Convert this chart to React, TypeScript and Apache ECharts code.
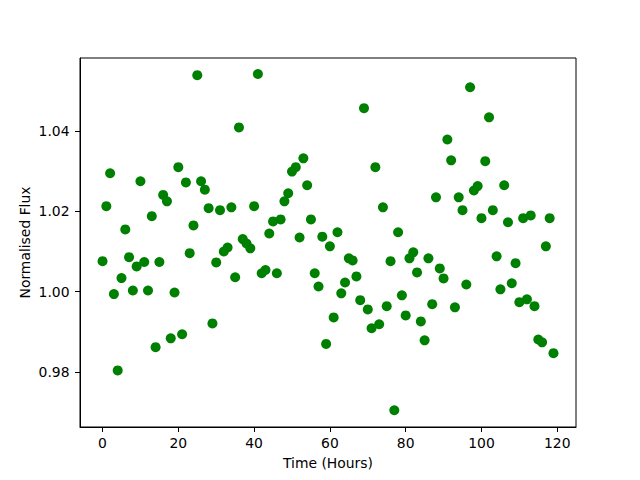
import React, { useEffect, useRef } from "react";
import * as echarts from "echarts";

const hours: number[] = Array.from({ length: 120 }, (_, i) => i);

const flux: number[] = [
  1.0076, 1.0213, 1.0295, 0.9994, 0.9804, 1.0034, 1.0155, 1.0086, 1.0003, 1.0063,
  1.0275, 1.0074, 1.0003, 1.0188, 0.9862, 1.0074, 1.0241, 1.0225, 0.9884, 0.9998,
  1.0310, 0.9894, 1.0272, 1.0096, 1.0165, 1.0539, 1.0275, 1.0254, 1.0208, 0.9921,
  1.0073, 1.0203, 1.0100, 1.0110, 1.0210, 1.0036, 1.0409, 1.0131, 1.0120, 1.0108,
  1.0213, 1.0542, 1.0046, 1.0054, 1.0145, 1.0175, 1.0046, 1.0180, 1.0225, 1.0245,
  1.0299, 1.0310, 1.0135, 1.0332, 1.0265, 1.0180, 1.0046, 1.0013, 1.0137, 0.9870,
  1.0113, 0.9936, 1.0148, 0.9996, 1.0023, 1.0083, 1.0078, 1.0038, 0.9979, 1.0457,
  0.9956, 0.9909, 1.0310, 0.9919, 1.0210, 0.9964, 1.0076, 0.9705, 1.0148, 0.9991,
  0.9941, 1.0083, 1.0098, 1.0048, 0.9926, 0.9879, 1.0083, 0.9969, 1.0235, 1.0058,
  1.0033, 1.0379, 1.0327, 0.9961, 1.0235, 1.0203, 1.0018, 1.0509, 1.0252, 1.0263,
  1.0183, 1.0325, 1.0434, 1.0203, 1.0088, 1.0006, 1.0265, 1.0173, 1.0021, 1.0071,
  0.9974, 1.0183, 0.9981, 1.0190, 0.9964, 0.9881, 0.9874, 1.0113, 1.0183, 0.9847,
];

const xTicks: number[] = [0, 20, 40, 60, 80, 100, 120];
const yTicks: number[] = [0.98, 1.0, 1.02, 1.04];

export default function App() {
  const ref = useRef<HTMLDivElement>(null);

  useEffect(() => {
    if (!ref.current) return;
    const chart = echarts.init(ref.current, null, { renderer: "svg" });
    const font = "DejaVu Sans";
    const xMin = -5.95;
    const xMax = 124.95;
    const yMin = 0.96632;
    const yMax = 1.05818;
    chart.setOption({
      animation: false,
      backgroundColor: "#ffffff",
      grid: {
        left: 80,
        right: 64,
        top: 58,
        bottom: 53,
        show: true,
        borderColor: "#000",
        borderWidth: 1,
        backgroundColor: "transparent",
      },
      xAxis: {
        type: "value",
        min: xMin,
        max: xMax,
        name: "Time (Hours)",
        nameLocation: "middle",
        nameGap: 29,
        nameMoveOverlap: false,
        nameTextStyle: { fontFamily: font, fontSize: 13.9, color: "#000" },
        splitLine: { show: false },
        axisLine: { show: true, onZero: false, lineStyle: { color: "#000", width: 1 } },
        axisTick: {
          show: true,
          length: 5,
          lineStyle: { color: "#000", width: 1 },
          customValues: xTicks,
        },
        axisLabel: {
          fontFamily: font,
          fontSize: 13.9,
          color: "#000",
          margin: 9,
          customValues: xTicks,
          formatter: (v: number) => String(v),
        },
      },
      yAxis: {
        type: "value",
        min: yMin,
        max: yMax,
        name: "Normalised Flux",
        nameLocation: "middle",
        nameGap: 48,
        nameMoveOverlap: false,
        nameRotate: 90,
        nameTextStyle: { fontFamily: font, fontSize: 13.9, color: "#000" },
        splitLine: { show: false },
        axisLine: { show: true, onZero: false, lineStyle: { color: "#000", width: 1 } },
        axisTick: {
          show: true,
          length: 5,
          lineStyle: { color: "#000", width: 1 },
          customValues: yTicks,
        },
        axisLabel: {
          fontFamily: font,
          fontSize: 13.9,
          color: "#000",
          margin: 10.5,
          customValues: yTicks,
          formatter: (v: number) => v.toFixed(2),
        },
      },
      series: [
        {
          type: "scatter",
          data: hours.map((h, i) => [h, flux[i]]),
          symbol: "circle",
          symbolSize: 10,
          itemStyle: { color: "#008000", opacity: 1 },
          emphasis: { disabled: true },
        },
      ],
    });
    return () => chart.dispose();
  }, []);

  return (
    <div
      ref={ref}
      style={{ position: "fixed", left: 0, top: 0, width: 640, height: 480 }}
    />
  );
}
